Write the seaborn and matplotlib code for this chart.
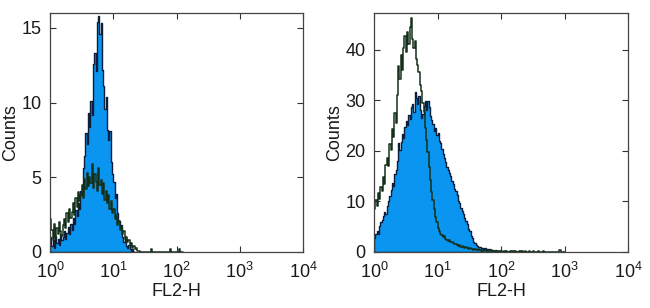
import numpy as np
import matplotlib
matplotlib.use("Agg")
import matplotlib.pyplot as plt
import seaborn as sns

# ---- data (counts per channel bin; bins are 0.02 decade wide starting at 10^0) ----
bin_step = 0.02

left_stained = [
    1.0, 0.4, 0.8, 0.3, 1.1, 0.6, 0.9, 0.5, 1.2, 0.8,
    1.0, 1.4, 0.9, 1.3, 1.7, 1.2, 1.9, 1.5, 2.3, 1.9,
    2.8, 2.4, 3.3, 2.9, 4.1, 3.8, 5.6, 6.4, 8.0, 7.2,
    9.3, 8.4, 10.1, 9.2, 12.6, 13.3, 12.1, 15.4, 15.8, 14.6,
    15.3, 12.2, 11.1, 9.6, 10.4, 8.2, 7.5, 8.1, 6.0, 5.2,
    4.7, 3.6, 3.9, 2.6, 2.1, 1.6, 1.8, 1.0, 0.7, 0.9,
    0.4, 0.3, 0.5, 0.2, 0.1, 0.2, 0.0,
]
left_control = [
    2.2, 1.5, 0.8, 1.9, 1.0, 1.6, 1.2, 2.0, 1.4, 1.1,
    1.8, 2.2, 1.6, 2.6, 2.0, 2.9, 2.3, 2.7, 3.3, 2.5,
    3.6, 3.0, 4.0, 3.4, 3.8, 4.5, 3.6, 4.9, 4.2, 5.3,
    4.4, 5.0, 4.6, 5.9, 4.3, 5.2, 4.7, 4.1, 5.6, 4.5,
    4.8, 3.9, 4.6, 3.5, 4.1, 3.3, 3.8, 2.9, 3.4, 2.6,
    2.9, 2.2, 2.5, 1.8, 2.1, 1.5, 1.7, 1.2, 1.4, 0.9,
    1.0, 0.7, 0.8, 0.5, 0.6, 0.3, 0.4, 0.2, 0.3, 0.1,
    0.1, 0.0, 0.0, 0.0, 0.0, 0.0, 0.0, 0.0, 0.0, 0.0,
    0.2, 0.0, 0.0, 0.0, 0.0, 0.0, 0.0, 0.0, 0.0, 0.0,
    0.0, 0.0, 0.0, 0.0, 0.0, 0.2, 0.0, 0.0, 0.0, 0.0,
    0.0, 0.0, 0.2, 0.0, 0.0,
]
right_stained = [
    2.8, 3.5, 4.1, 3.6, 5.2, 5.9, 6.4, 7.1, 8.0, 7.6,
    9.2, 10.1, 11.0, 12.3, 13.6, 13.1, 15.4, 16.2, 18.0, 21.5,
    20.2, 21.8, 23.4, 22.6, 24.8, 25.9, 25.1, 27.2, 26.4, 28.6,
    29.3, 27.8, 31.6, 30.4, 29.2, 30.8, 28.1, 26.5, 27.4, 28.9,
    29.8, 28.2, 29.9, 28.6, 27.0, 26.1, 25.3, 24.0, 24.6, 23.2,
    23.5, 22.0, 21.6, 20.3, 19.4, 18.7, 17.8, 16.9, 16.2, 15.6,
    15.0, 14.1, 13.5, 12.4, 12.0, 11.2, 10.1, 9.6, 8.8, 8.1,
    7.6, 6.8, 6.1, 5.5, 4.6, 4.1, 3.2, 2.8, 2.0, 1.7,
    1.4, 1.2, 1.0, 0.9, 0.8, 0.7, 0.6, 0.7, 0.5, 0.4,
    0.5, 0.3, 0.4, 0.3, 0.2, 0.3, 0.2, 0.1, 0.2, 0.1,
    0.2, 0.1, 0.0, 0.2, 0.1, 0.0, 0.1, 0.0, 0.1, 0.0,
    0.1, 0.0, 0.0, 0.1, 0.0, 0.0, 0.1, 0.0, 0.0, 0.0,
]
right_control = [
    8.5, 10.2, 9.1, 11.6, 10.4, 12.9, 12.0, 14.8, 13.5, 17.2,
    18.6, 17.0, 21.4, 20.1, 24.3, 22.8, 27.5, 25.6, 31.0, 36.8,
    34.2, 38.9, 36.1, 40.4, 42.8, 39.6, 43.5, 41.2, 44.6, 46.3,
    42.1, 40.3, 41.8, 38.2, 37.0, 35.6, 33.1, 31.9, 29.4, 27.8,
    24.6, 22.1, 19.8, 16.9, 14.2, 11.9, 10.3, 8.6, 7.0, 5.9,
    4.8, 4.2, 3.6, 3.3, 2.9, 3.1, 2.6, 2.4, 2.1, 2.3,
    1.9, 2.0, 1.7, 1.5, 1.6, 1.3, 1.2, 1.4, 1.0, 1.1,
    0.9, 0.8, 1.0, 0.7, 0.6, 0.8, 0.5, 0.6, 0.4, 0.5,
    0.4, 0.3, 0.5, 0.3, 0.2, 0.4, 0.2, 0.3, 0.2, 0.3,
    0.2, 0.1, 0.3, 0.2, 0.1, 0.2, 0.0, 0.2, 0.1, 0.0,
    0.2, 0.0, 0.1, 0.0, 0.2, 0.0, 0.0, 0.1, 0.0, 0.2,
    0.0, 0.1, 0.0, 0.0, 0.2, 0.0, 0.1, 0.0, 0.0, 0.1,
    0.0, 0.0, 0.2, 0.0, 0.0, 0.1, 0.0, 0.0, 0.0, 0.1,
    0.0, 0.0, 0.0, 0.1, 0.0, 0.0, 0.0, 0.0, 0.0, 0.0,
    0.0, 0.0, 0.0, 0.0, 0.0, 0.0, 0.3, 0.0, 0.0, 0.0,
]

x_ticks = [1, 10, 100, 1000, 10000]
left_yticks = [0, 5, 10, 15]
right_yticks = [0, 10, 20, 30, 40]
x_label = "FL2-H"
y_label = "Counts"

fill_color = "#0a96f0"
fill_edge = "#0b1f3d"
control_color = "#15301a"
text_color = "#1a1a1a"

# ---- style ----
sns.set_style("ticks")
plt.rcParams["font.family"] = ["Liberation Sans", "DejaVu Sans"]
plt.rcParams["mathtext.fontset"] = "custom"
plt.rcParams["mathtext.rm"] = "Liberation Sans"
plt.rcParams["mathtext.it"] = "Liberation Sans"
plt.rcParams["font.size"] = 13
plt.rcParams["text.color"] = text_color
plt.rcParams["axes.labelcolor"] = text_color
plt.rcParams["xtick.color"] = text_color
plt.rcParams["ytick.color"] = text_color

fig = plt.figure(figsize=(6.5, 3.08), dpi=100)
ax_l = fig.add_axes([50 / 650, 56 / 308, 253 / 650, 239 / 308])
ax_r = fig.add_axes([374 / 650, 56 / 308, 254 / 650, 239 / 308])


def draw_hist(ax, counts, **kw):
    n = len(counts)
    centers = 10 ** (bin_step / 2 + bin_step * np.arange(n))
    sns.histplot(x=centers, weights=counts, binwidth=bin_step,
                 binrange=(0, bin_step * n), log_scale=True,
                 element="step", stat="count", ax=ax, **kw)


for ax, stained, control, ymax, yt in [
    (ax_l, left_stained, left_control, 16.0, left_yticks),
    (ax_r, right_stained, right_control, 47.3, right_yticks),
]:
    draw_hist(ax, stained, fill=True, color=fill_color, alpha=1.0,
              edgecolor=fill_edge, linewidth=1.0)
    draw_hist(ax, control, fill=False, color=control_color, linewidth=1.1)
    ax.set_xscale("log")
    ax.set_xlim(1, 10000)
    ax.set_ylim(0, ymax)
    ax.set_xticks(x_ticks)
    ax.xaxis.set_minor_locator(matplotlib.ticker.NullLocator())
    ax.set_yticks(yt)
    ax.tick_params(direction="in", length=4, width=0.8, top=True, right=True,
                   labelsize=13, color="#333333")
    ax.tick_params(axis="x", pad=7)
    ax.tick_params(axis="y", pad=6)
    for sp in ax.spines.values():
        sp.set_visible(True)
        sp.set_linewidth(0.9)
        sp.set_color("#444444")
    ax.set_xlabel(x_label, fontsize=13, labelpad=1)
    ax.set_ylabel(y_label, fontsize=13, labelpad=2)

fig.savefig("out.png", dpi=100)
